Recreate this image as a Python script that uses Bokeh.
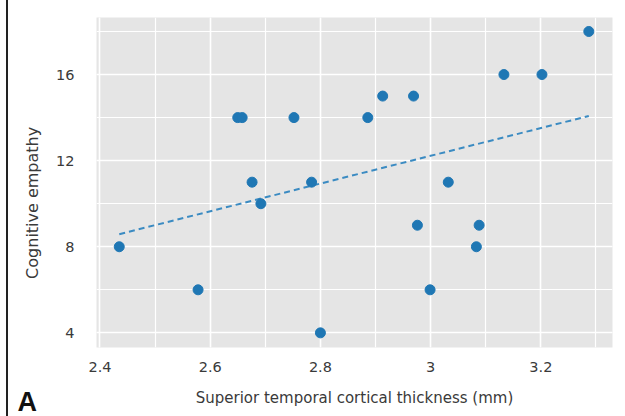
import numpy as np
from bokeh.plotting import figure
from bokeh.models import Range1d, SingleIntervalTicker, Label, ColumnDataSource
from bokeh.embed import file_html
from bokeh.resources import INLINE

# Data
thickness = [2.435, 2.578, 2.650, 2.658, 2.676, 2.692, 2.752, 2.784, 2.800, 2.886,
             2.913, 2.969, 2.976, 2.999, 3.032, 3.083, 3.088, 3.133, 3.202, 3.287]
empathy = [8, 6, 14, 14, 11, 10, 14, 11, 4, 14,
           15, 15, 9, 6, 11, 8, 9, 16, 16, 18]

x_label = "Superior temporal cortical thickness (mm)"
y_label = "Cognitive empathy"
panel_label = "A"

FONT = "DejaVu Sans"

p = figure(width=625, height=416, output_backend="svg", toolbar_location=None,
           x_range=Range1d(2.3937, 3.330), y_range=Range1d(3.32, 18.65),
           min_border_left=96, min_border_right=13, min_border_top=17, min_border_bottom=69)
p.border_fill_color = None
p.styles = {"background": "linear-gradient(to right, #ffffff 6.5px, #222222 6.5px, "
                          "#222222 8px, #ffffff 8px)"}

p.background_fill_color = "#e5e5e5"
p.outline_line_color = None

p.xaxis.ticker = SingleIntervalTicker(interval=0.2, num_minor_ticks=2)
p.yaxis.ticker = SingleIntervalTicker(interval=4, num_minor_ticks=2)

for g in (p.xgrid, p.ygrid):
    g.grid_line_color = "white"
    g.grid_line_width = 1.5
    g.minor_grid_line_color = "white"
    g.minor_grid_line_width = 1.2

for ax in (p.xaxis, p.yaxis):
    ax.axis_line_color = None
    ax.major_tick_line_color = None
    ax.minor_tick_line_color = None
    ax.major_tick_out = 0
    ax.major_tick_in = 0
    ax.major_label_text_font = FONT
    ax.major_label_text_font_size = "14.5px"
    ax.major_label_text_color = "#3a3a3a"
    ax.axis_label_text_font = FONT
    ax.axis_label_text_font_style = "normal"
    ax.axis_label_text_color = "#3a3a3a"

p.xaxis.axis_label_text_font_size = "15px"
p.yaxis.axis_label_text_font_size = "16px"
p.xaxis.axis_label = x_label
# trailing no-break spaces shift the vertical label down, as in the reference
p.yaxis.axis_label = y_label + "\u00a0" * 8
p.xaxis.major_label_standoff = 10
p.yaxis.major_label_standoff = 18
p.xaxis.axis_label_standoff = 14
p.yaxis.axis_label_standoff = 11

# regression line (OLS fit)
slope, intercept = np.polyfit(thickness, empathy, 1)
xs = [min(thickness), max(thickness)]
ys = [slope * v + intercept for v in xs]
p.line(xs, ys, line_color="#3b8bc2", line_width=2, line_dash="6 4")

src = ColumnDataSource(dict(x=thickness, y=empathy))
p.scatter("x", "y", source=src, size=10, fill_color="#1f77b4", line_color="#1f77b4")

# panel letter, placed in the left side panel (not clipped to the frame)
p.add_layout(Label(x=2.2503, y=0.81, text=panel_label, text_font="Liberation Sans",
                   text_font_style="bold", text_font_size="27px", text_color="#111111",
                   text_baseline="alphabetic", text_align="left", text_line_height=1.0,
                   x_units="data", y_units="data"), "left")

open("out.html", "w").write(file_html(p, INLINE))
